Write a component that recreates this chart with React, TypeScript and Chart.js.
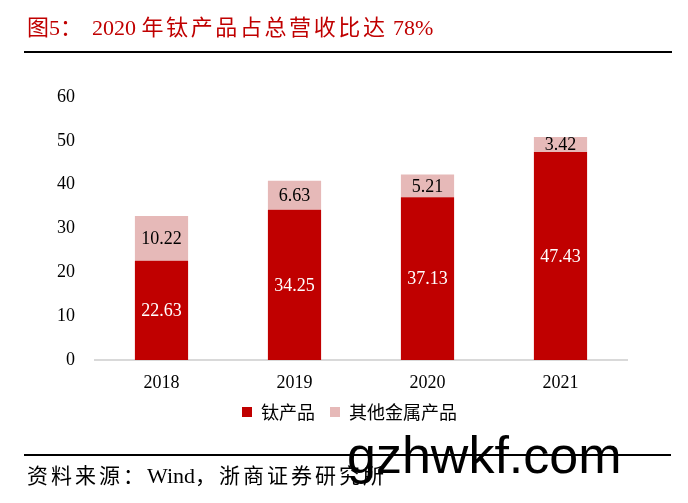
import React, { useEffect, useRef } from "react";
import { Chart, registerables } from "chart.js";

Chart.register(...registerables);

const categories = ["2018", "2019", "2020", "2021"];
const titaniumValues = [22.63, 34.25, 37.13, 47.43];
const otherMetalValues = [10.22, 6.63, 5.21, 3.42];
const seriesNames = ["钛产品", "其他金属产品"];
const yTicks = [0, 10, 20, 30, 40, 50, 60];

const titleYear = "2020";
const titleMiddle = "年钛产品占总营收比达";
const titleShare = "78%";
const sourceLead = "资料来源：";
const sourceName = "Wind";
const sourceTail = "，浙商证券研究所";
const watermark = "gzhwkf.com";

const RED = "#C00000";
const PINK = "#E6B9B8";
const SERIF = "'Liberation Serif', 'Noto Sans CJK SC', serif";
const CJK = "'Noto Sans CJK SC', 'Liberation Serif', sans-serif";

const valueLabelPlugin = {
  id: "valueLabels",
  afterDatasetsDraw(chart: any) {
    const ctx = chart.ctx;
    ctx.save();
    ctx.font = `18px ${SERIF}`;
    ctx.textAlign = "center";
    ctx.textBaseline = "middle";
    chart.data.datasets.forEach((ds: any, di: number) => {
      const meta = chart.getDatasetMeta(di);
      meta.data.forEach((el: any, i: number) => {
        const { x, y, base } = el.getProps(["x", "y", "base"], true);
        ctx.fillStyle = di === 0 ? "#FFFFFF" : "#000000";
        ctx.fillText(Number(ds.data[i]).toFixed(2), x, (y + base) / 2 + 1);
      });
    });
    ctx.restore();
  },
};

const noLabelClip = (scale: any) => {
  scale._computeLabelArea = () => undefined;
};

export default function App() {
  const ref = useRef<HTMLCanvasElement | null>(null);

  useEffect(() => {
    if (!ref.current) return;
    const chart = new Chart(ref.current, {
      type: "bar",
      data: {
        labels: categories,
        datasets: [
          {
            label: seriesNames[0],
            data: titaniumValues,
            backgroundColor: RED,
            borderWidth: 0,
          },
          {
            label: seriesNames[1],
            data: otherMetalValues,
            backgroundColor: PINK,
            borderWidth: 0,
          },
        ],
      },
      options: {
        responsive: false,
        animation: false,
        events: [],
        layout: { padding: { top: 97, left: 72, right: 61, bottom: 72 } },
        datasets: {
          bar: { barPercentage: 0.4, categoryPercentage: 1 },
        },
        scales: {
          x: {
            stacked: true,
            grid: { display: false, drawTicks: false },
            border: { display: true, color: "#D9D9D9", width: 2 },
            ticks: {
              color: "#000000",
              font: { family: SERIF, size: 18 },
              padding: 12,
            },
            afterFit(scale: any) {
              scale.height = 28;
              noLabelClip(scale);
            },
          },
          y: {
            stacked: true,
            min: 0,
            max: 60,
            grid: { display: false, drawTicks: false },
            border: { display: false },
            ticks: {
              color: "#000000",
              font: { family: SERIF, size: 18 },
              padding: 20,
            },
            afterBuildTicks(scale: any) {
              scale.ticks = yTicks.map((v) => ({ value: v }));
            },
            afterFit(scale: any) {
              scale.width = 23;
              noLabelClip(scale);
            },
          },
        },
        plugins: {
          legend: {
            position: "bottom",
            labels: {
              boxWidth: 10,
              boxHeight: 10,
              padding: 15,
              color: "#000000",
              font: { family: CJK, size: 18 },
            },
          },
          tooltip: { enabled: false },
          title: { display: false },
        },
      },
      plugins: [valueLabelPlugin],
    });
    return () => chart.destroy();
  }, []);

  const abs = (s: React.CSSProperties): React.CSSProperties => ({
    position: "absolute",
    whiteSpace: "pre",
    margin: 0,
    ...s,
  });

  return (
    <div
      style={{
        position: "fixed",
        left: 0,
        top: 0,
        width: 688,
        height: 503,
        background: "#FFFFFF",
        overflow: "hidden",
      }}
    >
      <canvas ref={ref} width={688} height={503} style={{ position: "absolute", left: 0, top: 0 }} />
      <div style={abs({ left: 27, top: 14, fontFamily: SERIF, fontSize: 22, lineHeight: "22px", color: RED })}>
        <span style={{ fontFamily: CJK }}>图</span>
        <span>5</span>
        <span style={{ fontFamily: CJK }}>：</span>
      </div>
      <div style={abs({ left: 92, top: 14, fontFamily: SERIF, fontSize: 22, lineHeight: "22px", color: RED })}>
        <span>{titleYear} </span>
        <span style={{ fontFamily: CJK, letterSpacing: "2.6px" }}>{titleMiddle}</span>
        <span> {titleShare}</span>
      </div>
      <div style={abs({ left: 24, top: 51, width: 648, height: 2, background: "#000000" })} />
      <div style={abs({ left: 24, top: 454, width: 647, height: 2, background: "#000000" })} />
      <div style={abs({ left: 27, top: 463, fontFamily: SERIF, fontSize: 21, lineHeight: "22px", color: "#000000" })}>
        <span style={{ fontFamily: CJK, letterSpacing: "3px" }}>{sourceLead}</span>
        <span style={{ fontSize: 22 }}>{sourceName}</span>
        <span style={{ fontFamily: CJK, letterSpacing: "3px" }}>{sourceTail}</span>
      </div>
      <div
        style={abs({
          left: 347,
          top: 429,
          fontFamily: "'Liberation Sans', Arial, sans-serif",
          fontSize: 52,
          lineHeight: "52px",
          color: "#000000",
        })}
      >
        {watermark}
      </div>
    </div>
  );
}
